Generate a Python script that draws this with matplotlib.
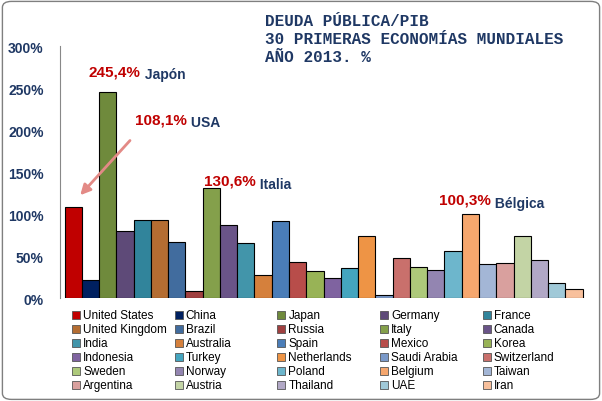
import matplotlib.pyplot as plt
from matplotlib.patches import FancyBboxPatch, Rectangle

paises = ['United States', 'China', 'Japan', 'Germany', 'France',
          'United Kingdom', 'Brazil', 'Russia', 'Italy', 'Canada',
          'India', 'Australia', 'Spain', 'Mexico', 'Korea',
          'Indonesia', 'Turkey', 'Netherlands', 'Saudi Arabia', 'Switzerland',
          'Sweden', 'Norway', 'Poland', 'Belgium', 'Taiwan',
          'Argentina', 'Austria', 'Thailand', 'UAE', 'Iran']
deuda = [108.1, 21, 245.4, 79.4, 92.5, 92.5, 66.3, 9, 130.6, 86.5,
         66, 27, 91.3, 42.5, 31.7, 23.4, 35.3, 73.4, 3.2, 47.2,
         36.5, 33, 55.6, 100.3, 40, 41.3, 73.4, 44.9, 17.5, 10.4]
colores = ['#C00000', '#002060', '#6F8A3C', '#5E4A78', '#31849B',
           '#B46D32', '#416C9E', '#A04040', '#84A04B', '#6A5488',
           '#4295AA', '#D5803C', '#4A7DB8', '#B84D4A', '#98B356',
           '#7F63A0', '#44A5BF', '#EE9445', '#7A99C9', '#C9706C',
           '#ADC97A', '#9385B1', '#6DB6CC', '#F6A76E', '#A3B6D6',
           '#D9A09E', '#C3D4A5', '#B1A8C6', '#A0C9D8', '#F8C09C']

plt.rcParams['font.family'] = ['Liberation Sans', 'DejaVu Sans']
fig = plt.figure(figsize=(6.02, 4.02), dpi=100)
fig.patches.append(FancyBboxPatch((0.004, 0.004), 0.992, 0.99, boxstyle='round,pad=0,rounding_size=0.015',
                                  transform=fig.transFigure, fc='white', ec='#7F7F7F', lw=1, zorder=-5))
ax = fig.add_axes([0.1, 0.256, 0.875, 0.627])
ax.patch.set_alpha(0)
x = list(range(len(paises)))
ax.bar(x, [v / 100 for v in deuda], width=1, color=colores, edgecolor='black', lw=0.8)
ax.set_xlim(-0.75, 29.75)
ax.set_ylim(0, 3)
ax.set_yticks([0, 0.5, 1, 1.5, 2, 2.5, 3])
ax.set_yticklabels(['0%', '50%', '100%', '150%', '200%', '250%', '300%'],
                   fontweight='bold', color='#1F3864', fontsize=10)
ax.tick_params(length=0, pad=12)
ax.set_xticks([])
for s in ['top', 'right', 'bottom']:
    ax.spines[s].set_visible(False)
ax.spines['left'].set_color('#888888')

fig.text(0.44, 0.965, 'DEUDA PÚBLICA/PIB\n30 PRIMERAS ECONOMÍAS MUNDIALES\nAÑO 2013. %',
         family='Liberation Mono', fontweight='bold', color='#1F3864', fontsize=11.5,
         va='top', linespacing=1.25)

def etiqueta(xp, yp, valor, nombre):
    t = ax.annotate(valor, (xp, yp), color='#C00000', fontweight='bold', fontsize=11)
    ax.annotate(' ' + nombre, (1, 0), xycoords=t, color='#1F3864', fontweight='bold', fontsize=10)

etiqueta(0.9, 2.65, '245,4%', 'Japón')
etiqueta(3.6, 2.08, '108,1%', 'USA')
etiqueta(7.6, 1.35, '130,6%', 'Italia')
etiqueta(21.2, 1.12, '100,3%', 'Bélgica')
ax.annotate('', xy=(0.3, 1.2), xytext=(3.4, 1.9),
            arrowprops=dict(arrowstyle='-|>', color='#E38A86', lw=2, mutation_scale=15))

# leyenda manual, 5 columnas fijas
for i, (p, c) in enumerate(zip(paises, colores)):
    fila, col = divmod(i, 5)
    x0 = (72 + col * 102.7) / 602
    y0 = 1 - (316 + fila * 14) / 402
    fig.patches.append(Rectangle((x0, y0 - 4 / 402), 8 / 602, 8 / 402, transform=fig.transFigure,
                                 fc=c, ec='#555555', lw=0.6))
    fig.text(x0 + 11 / 602, y0, p, fontsize=8.5, va='center', color='black')
fig.savefig('out.png', dpi=100)
